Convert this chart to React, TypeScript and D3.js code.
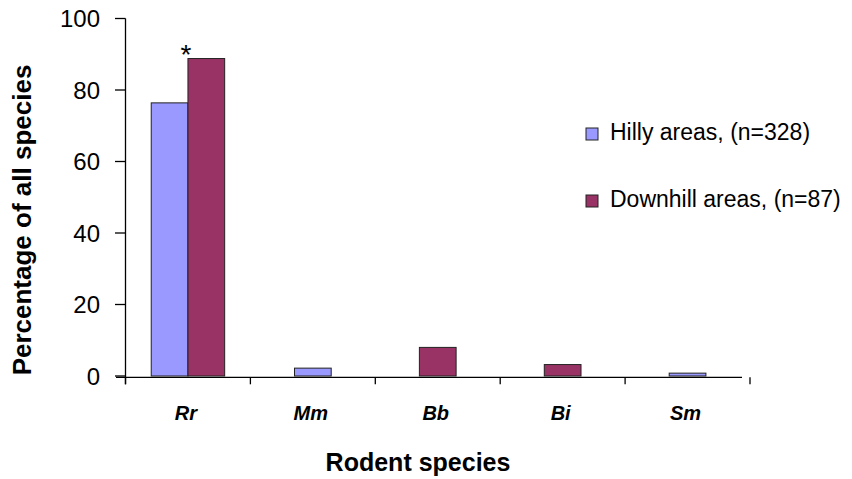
import * as d3 from "d3";
import { useEffect } from "react";

const categories = ["Rr", "Mm", "Bb", "Bi", "Sm"];
const hilly = [76.4, 2.2, 0, 0, 0.8];
const downhill = [88.8, 0, 8.0, 3.2, 0];
const yTicks = [0, 20, 40, 60, 80, 100];
const seriesNames = ["Hilly areas, (n=328)", "Downhill areas, (n=87)"];
const colors = ["#9999FF", "#993366"];

const W = 852;
const H = 479;
const font = "'Liberation Sans', Arial, sans-serif";

const App = () => {
  useEffect(() => {
    document.body.style.margin = "0";
  }, []);

  const xScale = d3.scaleBand<string>().domain(categories).range([125.5, 750]).padding(0);
  const yScale = d3.scaleLinear().domain([0, 100]).range([376, 18.5]);
  const bw = xScale.bandwidth() * 0.294;
  const axisY = yScale(0) + 1.3;

  // bars: paired where both exist, centred when only one series has a value
  const bars: { x: number; v: number; s: number }[] = [];
  categories.forEach((c, i) => {
    const cx = (xScale(c) as number) + xScale.bandwidth() / 2;
    const vals = [hilly[i], downhill[i]];
    const present = vals.map((v, s) => ({ v, s })).filter((d) => d.v > 0);
    if (present.length === 2) {
      bars.push({ x: cx - bw, v: vals[0], s: 0 });
      bars.push({ x: cx, v: vals[1], s: 1 });
    } else if (present.length === 1) {
      bars.push({ x: cx - bw / 2, v: present[0].v, s: present[0].s });
    }
  });

  const boundaries = categories.map((c) => xScale(c) as number).concat([750]);

  return (
    <svg width={W} height={H} style={{ display: "block", background: "#fff" }} fontFamily={font}>
      {/* y axis */}
      <line x1={125.5} x2={125.5} y1={yScale(100)} y2={axisY + 7} stroke="#000" strokeWidth={1.3} />
      {yTicks.map((t) => (
        <g key={t}>
          <line x1={115} x2={125.5} y1={yScale(t)} y2={yScale(t)} stroke="#000" strokeWidth={1.3} />
          <text x={100} y={yScale(t)} dy="0.36em" textAnchor="end" fontSize={24} fill="#000">
            {t}
          </text>
        </g>
      ))}

      {/* bars */}
      {bars.map((b, i) => (
        <rect
          key={i}
          x={b.x}
          y={yScale(b.v)}
          width={bw}
          height={yScale(0) - yScale(b.v)}
          fill={colors[b.s]}
          stroke="#222"
          strokeWidth={1}
        />
      ))}

      {/* x axis */}
      <line x1={116} x2={742} y1={axisY} y2={axisY} stroke="#000" strokeWidth={1.3} />
      {boundaries.map((bx, i) => (
        <line key={i} x1={bx} x2={bx} y1={axisY} y2={axisY + 7} stroke="#000" strokeWidth={1.3} />
      ))}
      {categories.map((c) => (
        <text
          key={c}
          x={(xScale(c) as number) + xScale.bandwidth() / 2 - 2}
          y={420}
          textAnchor="middle"
          fontSize={20}
          fontWeight="bold"
          fontStyle="italic"
          fill="#000"
        >
          {c}
        </text>
      ))}

      {/* significance mark */}
      <text
        x={(xScale("Rr") as number) + xScale.bandwidth() / 2 - 2}
        y={yScale(downhill[0]) + 5}
        textAnchor="middle"
        fontSize={28}
        fill="#000"
      >
        *
      </text>

      {/* axis titles */}
      <text x={418} y={471} textAnchor="middle" fontSize={25} fontWeight="bold" fill="#000">
        Rodent species
      </text>
      <text
        transform={`translate(31,${220}) rotate(-90)`}
        textAnchor="middle"
        fontSize={26}
        fontWeight="bold"
        fill="#000"
      >
        Percentage of all species
      </text>

      {/* legend */}
      {seriesNames.map((n, i) => (
        <g key={n} transform={`translate(586,${[140, 207][i]})`}>
          <rect x={0} y={-12} width={12} height={12} fill={colors[i]} stroke="#222" strokeWidth={1} />
          <text x={24} y={0} fontSize={23} fill="#000">
            {n}
          </text>
        </g>
      ))}
    </svg>
  );
};

export default App;
